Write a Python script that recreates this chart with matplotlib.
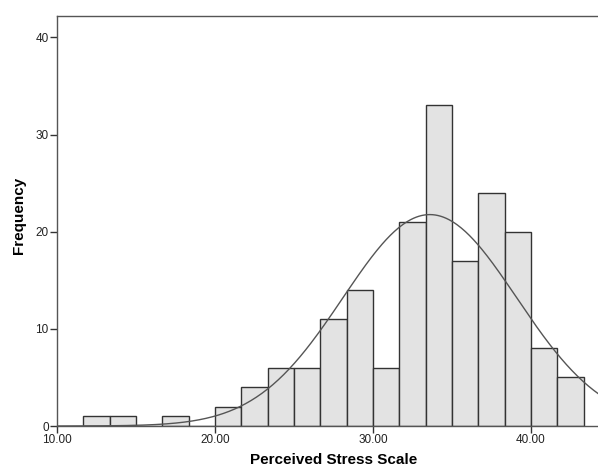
import numpy as np
import matplotlib
matplotlib.use("Agg")
import matplotlib.pyplot as plt

# histogram bins (bin width 5/3)
bin_edges = [11.667, 13.333, 15.0, 16.667, 18.333, 20.0, 21.667, 23.333, 25.0,
             26.667, 28.333, 30.0, 31.667, 33.333, 35.0, 36.667, 38.333, 40.0,
             41.667, 43.333]
counts = [1, 1, 0, 1, 0, 2, 4, 6, 6, 11, 14, 6, 21, 33, 17, 24, 20, 8, 5]

# normal curve parameters (estimated)
curve_mean = 33.6
curve_sd = 5.5

x_ticks = [10, 20, 30, 40]
x_tick_labels = ["10.00", "20.00", "30.00", "40.00"]
y_ticks = [0, 10, 20, 30, 40]

plt.rcParams['font.family'] = ['Liberation Sans', 'DejaVu Sans']

fig = plt.figure(figsize=(5.98, 4.73), dpi=100)
ax = fig.add_axes([57 / 598, 47 / 473, 545 / 598, 410 / 473])

lefts = np.array(bin_edges[:-1])
widths = np.diff(bin_edges)
ax.bar(lefts, counts, width=widths, align='edge', color='#e3e3e3',
       edgecolor='#333333', linewidth=1.0)

n = sum(counts)
bw = widths.mean()
xs = np.linspace(10, 44.5, 400)
ys = n * bw / (curve_sd * np.sqrt(2 * np.pi)) * np.exp(-0.5 * ((xs - curve_mean) / curve_sd) ** 2)
ax.plot(xs, ys, color='#555555', linewidth=1.0)

ax.set_xlim(10, 44.5)
ax.set_ylim(0, 42.2)
ax.set_xticks(x_ticks)
ax.set_xticklabels(x_tick_labels)
ax.set_yticks(y_ticks)
ax.tick_params(axis='both', direction='out', length=5, width=1, color='#333333',
               labelsize=8.5, labelcolor='#222222', pad=1)

for s in ['left', 'top', 'bottom', 'right']:
    ax.spines[s].set_color('#555555')
    ax.spines[s].set_linewidth(1.0)

ax.set_xlabel('Perceived Stress Scale', fontsize=11, fontweight='bold')
ax.set_ylabel('Frequency', fontsize=11, fontweight='bold')
ax.xaxis.set_label_coords((334 - 57) / 545, -(460 - 426) / 410)
ax.yaxis.set_label_coords(-(57 - 19) / 545, (426 - 215) / 410)
ax.xaxis.label.set_va('center')
ax.yaxis.label.set_va('center')

fig.savefig('out.png', dpi=100)
